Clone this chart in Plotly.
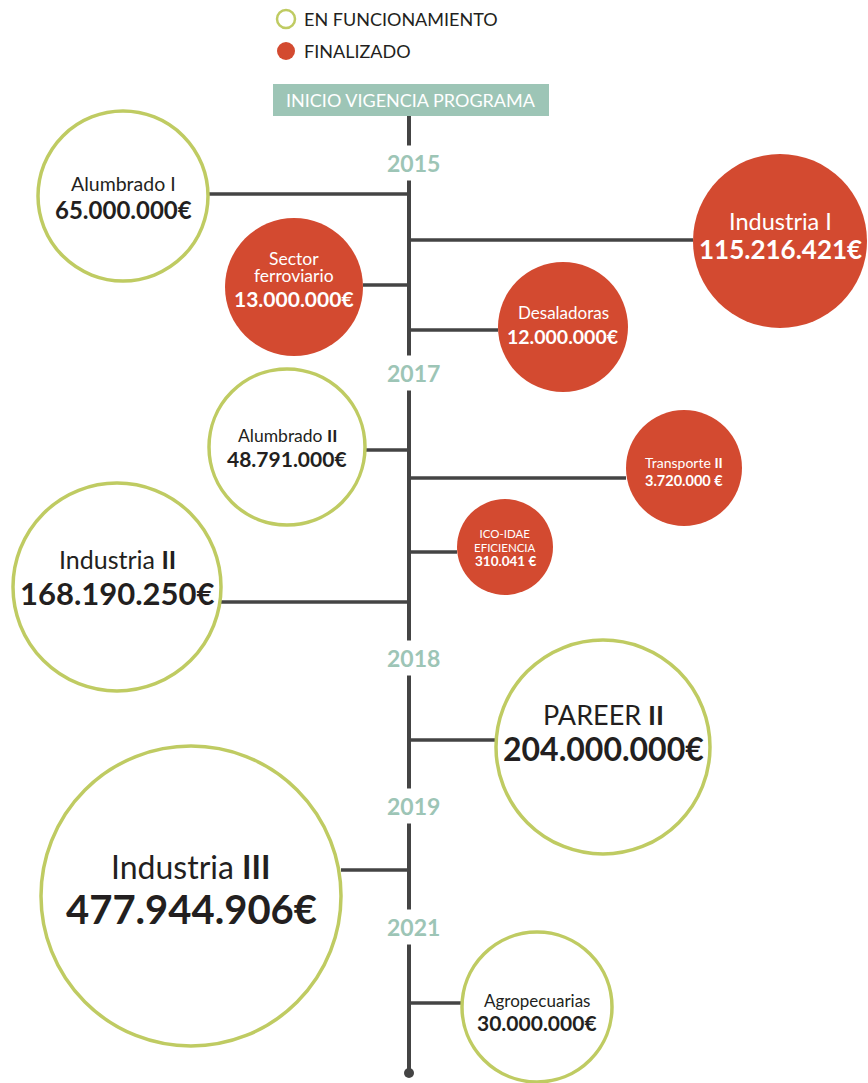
import plotly.graph_objects as go

# ---------------- data ----------------
names = ["Alumbrado I", "Industria I", "Sector<br>ferroviario", "Desaladoras",
         "Alumbrado <b>II</b>", "Transporte <b>II</b>", "ICO-IDAE<br>EFICIENCIA",
         "Industria <b>II</b>", "PAREER <b>II</b>", "Industria <b>III</b>", "Agropecuarias"]
amounts = ["65.000.000€", "115.216.421€", "13.000.000€", "12.000.000€",
           "48.791.000€", "3.720.000 €", "310.041 €", "168.190.250€",
           "204.000.000€", "477.944.906€", "30.000.000€"]
status = ["EN FUNCIONAMIENTO", "FINALIZADO", "FINALIZADO", "FINALIZADO",
          "EN FUNCIONAMIENTO", "FINALIZADO", "FINALIZADO", "EN FUNCIONAMIENTO",
          "EN FUNCIONAMIENTO", "EN FUNCIONAMIENTO", "EN FUNCIONAMIENTO"]
years = ["2015", "2017", "2018", "2019", "2021"]
legend_labels = ["EN FUNCIONAMIENTO", "FINALIZADO"]
header_text = "INICIO VIGENCIA PROGRAMA"

# ---------------- layout (pixel positions) ----------------
W, H = 868, 1083
AXIS_X = 409
# cx, cy, r, connector_y, label_y (centre of label block), value_y, label_size, value_size, line_gap
geom = [
    (123, 196, 85, 194, 183, 209, 19.5, 24, 0),
    (780, 241, 87, 240, 221, 249, 23.5, 26, 0),
    (294, 287, 69, 285, 267, 298, 17.5, 21, 16.5),
    (563, 327, 65, 330, 312, 336, 17, 19.5, 0),
    (287, 447, 78, 450, 435, 458, 17.5, 21, 0),
    (684, 468, 58, 478, 462, 480, 14, 14.5, 0),
    (505, 547, 48, 552, 540, 561, 11.5, 13.5, 14),
    (117, 587, 104, 602, 559, 593, 25, 31, 0),
    (603, 747, 107, 740, 714, 748, 27, 32, 0),
    (191, 896, 150, 870, 866, 909, 32, 40, 0),
    (537, 1007, 75, 1003, 1000, 1022, 17, 21, 0),
]
year_y = [163, 373, 658, 806, 927]

GREEN = "#BFCB62"
RED = "#D34A30"
TEAL = "#9DC5B6"
DARK = "#444444"
TXT = "#231F20"
FONT = "Lato"

fig = go.Figure()
shapes = []
annotations = []

# vertical timeline
shapes.append(dict(type="line", x0=AXIS_X, x1=AXIS_X, y0=112, y1=1073,
                   line=dict(color=DARK, width=4), layer="below"))
shapes.append(dict(type="circle", x0=AXIS_X - 5, x1=AXIS_X + 5, y0=1068, y1=1078,
                   fillcolor=DARK, line=dict(width=0)))

# header box
shapes.append(dict(type="rect", x0=273, x1=549, y0=84, y1=116,
                   fillcolor=TEAL, line=dict(width=0)))
annotations.append(dict(x=411, y=100, text=header_text, showarrow=False,
                        font=dict(family=FONT, size=18, color="white"),
                        xanchor="center", yanchor="middle"))

# legend
shapes.append(dict(type="circle", x0=277, x1=295, y0=10, y1=28,
                   fillcolor="white", line=dict(color=GREEN, width=2.5)))
shapes.append(dict(type="circle", x0=277, x1=295, y0=42, y1=60,
                   fillcolor=RED, line=dict(width=0)))
for lbl, ly in zip(legend_labels, [19, 51]):
    annotations.append(dict(x=302, y=ly, text=lbl, showarrow=False,
                            font=dict(family=FONT, size=18, color=TXT),
                            xanchor="left", yanchor="middle"))

# connectors and circles
for name, amt, st, g in zip(names, amounts, status, geom):
    cx, cy, r, cy_line, ly, vy, ls, vs, gap = g
    edge = cx + r if cx < AXIS_X else cx - r
    shapes.append(dict(type="line", x0=min(edge, AXIS_X), x1=max(edge, AXIS_X),
                       y0=cy_line, y1=cy_line, line=dict(color=DARK, width=3.5),
                       layer="below"))
    done = st == "FINALIZADO"
    shapes.append(dict(type="circle", x0=cx - r, x1=cx + r, y0=cy - r, y1=cy + r,
                       fillcolor=RED if done else "white",
                       line=dict(color=RED if done else GREEN, width=0 if done else 3.5),
                       layer="above"))
    tc = "white" if done else TXT
    parts = name.split("<br>")
    if len(parts) > 1:
        # tight leading: base size sets line spacing, spans set glyph size
        txt = "<br>".join("<span style='font-size:%spx'>%s</span>" % (ls, p) for p in parts)
        fsize = gap / 1.3
    else:
        txt, fsize = name, ls
    annotations.append(dict(x=cx, y=ly, text=txt, showarrow=False,
                            font=dict(family=FONT, size=fsize, color=tc),
                            xanchor="center", yanchor="middle", borderpad=0))
    annotations.append(dict(x=cx, y=vy, text="<b>" + amt + "</b>", showarrow=False,
                            font=dict(family=FONT, size=vs, color=tc),
                            xanchor="center", yanchor="middle", borderpad=0))

# year labels
for yr, yy in zip(years, year_y):
    annotations.append(dict(x=AXIS_X + 4, y=yy, text="<b>" + yr + "</b>", showarrow=False,
                            font=dict(family=FONT, size=23, color=TEAL),
                            bgcolor="white", xanchor="center", yanchor="middle",
                            borderpad=3))

fig.add_trace(go.Scatter(x=[0, W], y=[0, H], mode="markers",
                         marker=dict(opacity=0), hoverinfo="skip", showlegend=False))

fig.update_layout(
    width=W, height=H, margin=dict(l=0, r=0, t=0, b=0),
    paper_bgcolor="white", plot_bgcolor="white",
    xaxis=dict(range=[0, W], visible=False, fixedrange=True),
    yaxis=dict(range=[H, 0], visible=False, fixedrange=True),
    shapes=shapes, annotations=annotations, showlegend=False,
)

fig.write_html(
    "out.html",
    config={"displayModeBar": False},
    post_script="document.body.style.margin='0';document.body.style.overflow='hidden';",
)
